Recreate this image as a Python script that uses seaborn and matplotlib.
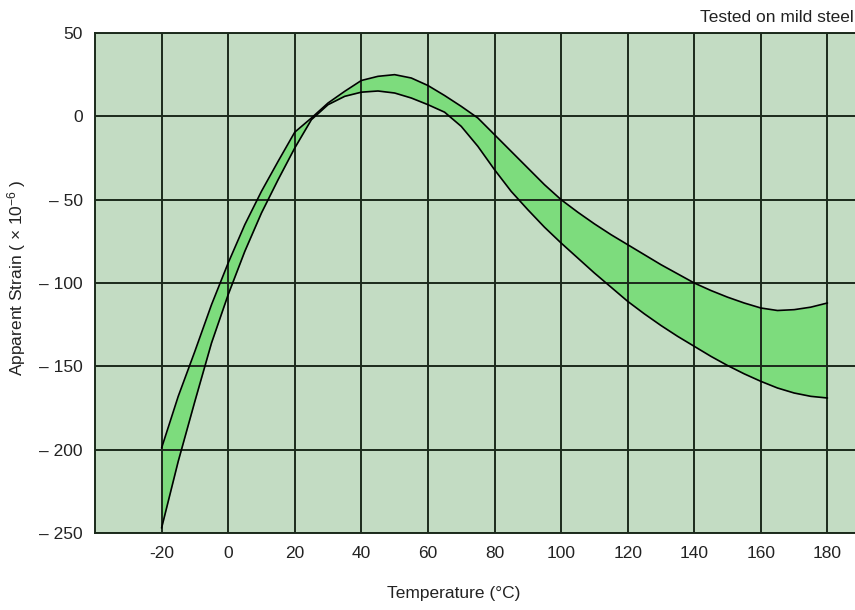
import numpy as np
import pandas as pd
import matplotlib
matplotlib.use('Agg')
import matplotlib.pyplot as plt
import seaborn as sns

# temperature points (deg C)
temps = [-20, -15, -10, -5, 0, 5, 10, 15, 20, 25, 30, 35, 40, 45, 50, 55, 60,
         65, 70, 75, 80, 85, 90, 95, 100, 105, 110, 115, 120, 125, 130, 135,
         140, 145, 150, 155, 160, 165, 170, 175, 180]

# upper edge of the apparent strain band (x 10^-6)
upper_strain = [-199, -168, -141, -113, -88, -65, -45, -27, -9.5, -1, 8, 15,
                21.5, 24, 25, 23, 18.5, 12.5, 6, -1, -11, -21, -31, -41, -50,
                -57.5, -64.5, -71, -77, -83, -89, -94.5, -100, -104.5, -108.5,
                -112, -115, -116.5, -116, -114.5, -112]

# lower edge of the band
lower_strain = [-247, -207, -171, -136, -107, -81, -58, -38, -19, -2, 7, 12,
                14.5, 15.2, 14, 11, 7, 2.5, -6, -18, -32, -45, -56, -66.5,
                -76, -85, -94, -102.5, -111, -118.5, -125.5, -132, -138, -144,
                -149.5, -154.5, -159, -163, -166, -168, -169]

x_ticks = [-20, 0, 20, 40, 60, 80, 100, 120, 140, 160, 180]
x_labels = ['-20', '0', '20', '40', '60', '80', '100', '120', '140', '160', '180']
y_ticks = [50, 0, -50, -100, -150, -200, -250]
y_labels = ['50', '0', '\u2013 50', '\u2013 100', '\u2013 150', '\u2013 200', '\u2013 250']

df = pd.DataFrame({'temp': temps, 'upper': upper_strain, 'lower': lower_strain})

sns.set_style("white")
plt.rcParams['font.family'] = ['Liberation Sans', 'DejaVu Sans']
plt.rcParams['mathtext.fontset'] = 'custom'
plt.rcParams['mathtext.rm'] = 'Liberation Sans'
plt.rcParams['mathtext.it'] = 'Liberation Sans'
plt.rcParams['mathtext.default'] = 'regular'

fs = 12.5
txt_col = '#222222'
grid_col = '#1b2a1b'

fig = plt.figure(figsize=(8.55, 6.1), dpi=100)
ax = fig.add_axes([95 / 855, 77 / 610, 799 / 855, 500 / 610])
ax.set_facecolor('#c3dcc3')

# green band between the two curves
ax.fill_between(df['temp'], df['lower'], df['upper'], color='#7ddc7d', lw=0, zorder=1)
sns.lineplot(data=df, x='temp', y='upper', color='black', lw=1.2, ax=ax, zorder=3)
sns.lineplot(data=df, x='temp', y='lower', color='black', lw=1.2, ax=ax, zorder=3)

ax.set_xlim(-40, 200)
ax.set_ylim(-250, 50)
ax.set_xticks(x_ticks)
ax.set_xticklabels(x_labels)
ax.set_yticks(y_ticks)
ax.set_yticklabels(y_labels)
ax.tick_params(length=0, pad=9, labelsize=fs, colors=txt_col)

ax.set_axisbelow(False)
ax.grid(True, color=grid_col, lw=1.4, zorder=2)
for s in ax.spines.values():
    s.set_color(grid_col)
    s.set_linewidth(1.4)

ax.set_xlabel('Temperature (\u00b0C)', fontsize=fs, color=txt_col)
ax.xaxis.set_label_coords((454 - 95) / 799, -0.106)
ax.set_ylabel('Apparent Strain ( \u00d7 $10^{-6}$ )', fontsize=fs, color=txt_col)
ax.yaxis.set_label_coords(-(95 - 28) / 799, 0.51)

fig.text(0.998, 1 - 17 / 610, 'Tested on mild steel', ha='right', va='center',
         fontsize=fs, color=txt_col)

fig.savefig('out.png', dpi=100)
